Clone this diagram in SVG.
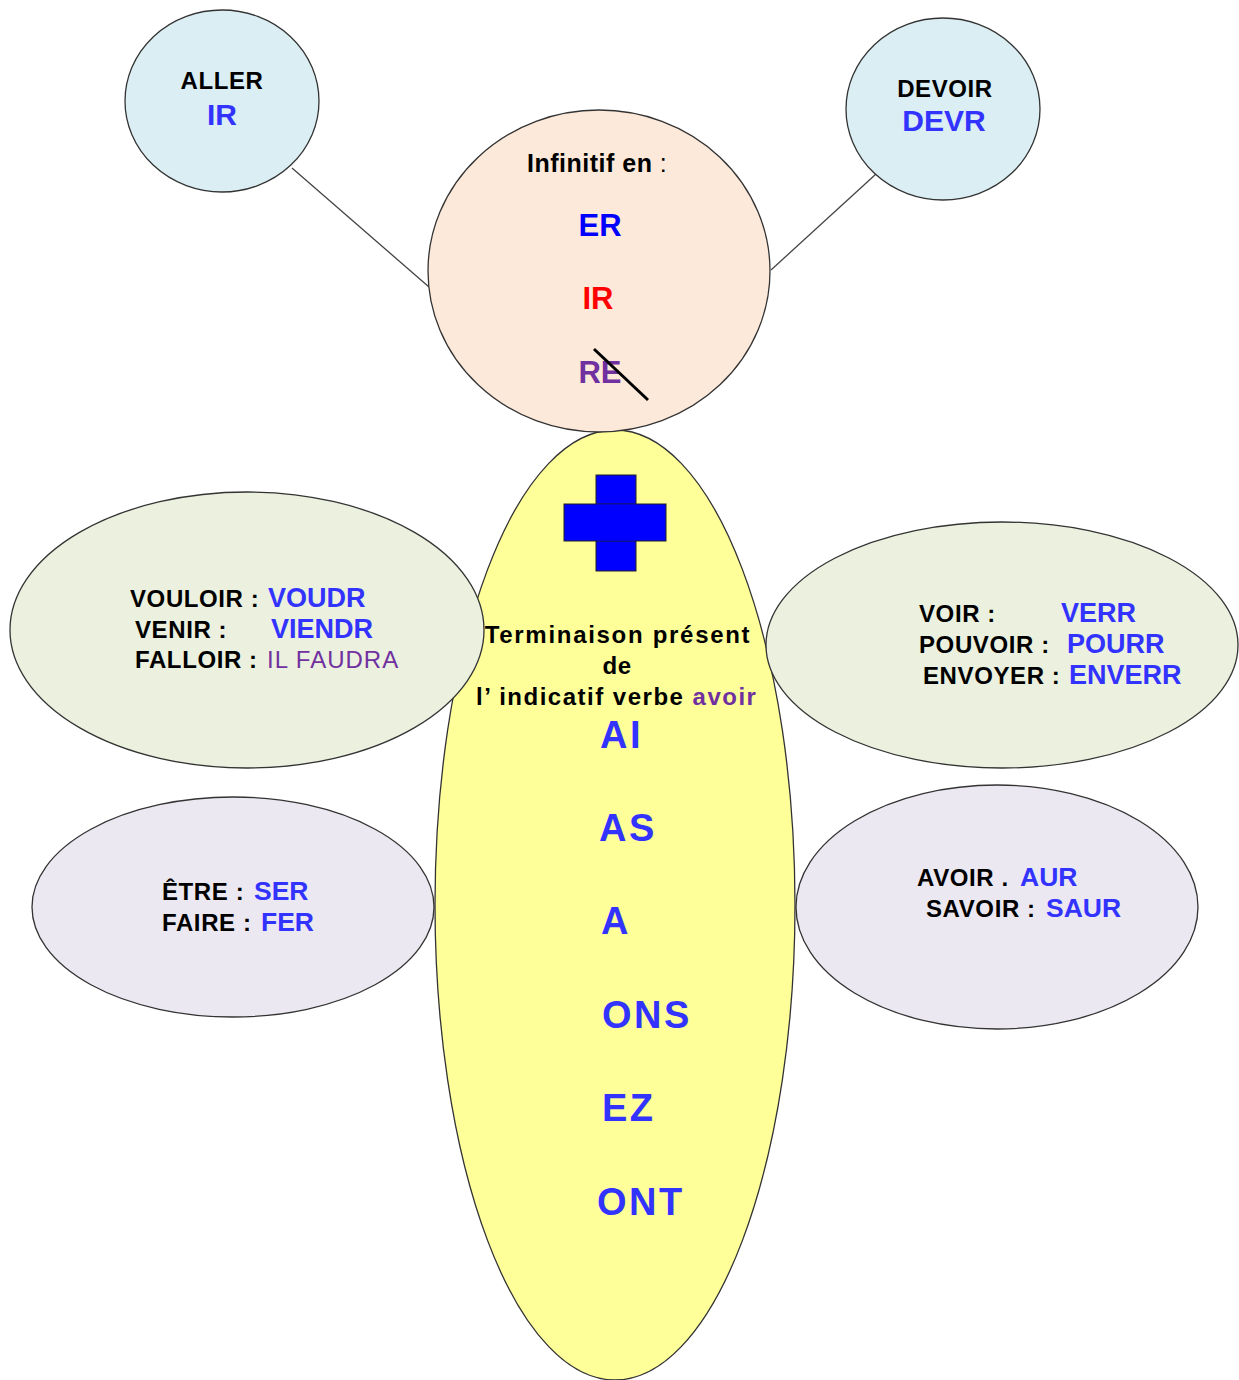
<svg xmlns="http://www.w3.org/2000/svg" width="1239" height="1380" viewBox="0 0 1239 1380">
<style>
.sh{stroke:#333;stroke-width:1.3}
.t{font-family:"Liberation Sans",Arial,sans-serif;font-weight:bold;fill:#000}
.k{font-size:24px;letter-spacing:0.6px}
.b{fill:#3333ff;font-size:27px}
.bl{fill:#3333ff;font-size:26.5px}
.p{fill:#7030a0;font-weight:normal}
.big{font-size:38px;fill:#3333ff;letter-spacing:2.5px}
</style>
<rect width="1239" height="1380" fill="#fff"/>
<g id="connectors" stroke="#444" stroke-width="1.3">
<line x1="292" y1="168" x2="429" y2="287"/>
<line x1="876" y1="174" x2="771" y2="270"/>
</g>
<g id="terminaison">
<ellipse cx="615" cy="905" rx="180" ry="475" fill="#ffff99" class="sh"/>
<rect x="596" y="475" width="40" height="96" fill="#0000ff" stroke="#222" stroke-width="1"/>
<rect x="564" y="504" width="102" height="37" fill="#0000ff" stroke="#222" stroke-width="1"/>
<rect x="596.5" y="504.5" width="39" height="36" fill="#0000ff"/>
<text class="t k" x="618" y="643" text-anchor="middle" style="letter-spacing:1.7px">Terminaison présent</text>
<text class="t k" x="617" y="674" text-anchor="middle">de</text>
<text class="t k" x="476" y="705" style="letter-spacing:1.5px">l’ indicatif verbe <tspan style="fill:#7030a0">avoir</tspan></text>
<text class="t big" x="600" y="748">AI</text>
<text class="t big" x="599" y="841">AS</text>
<text class="t big" x="601" y="934">A</text>
<text class="t big" x="602" y="1028">ONS</text>
<text class="t big" x="602" y="1121">EZ</text>
<text class="t big" x="597" y="1215">ONT</text>
</g>
<g id="infinitif">
<ellipse cx="599" cy="271" rx="171" ry="161" fill="#fde9d9" class="sh"/>
<text class="t" x="527" y="172" font-size="25" style="letter-spacing:0.5px">Infinitif en<tspan font-weight="normal"> :</tspan></text>
<text class="t" x="600" y="236" font-size="31" text-anchor="middle" style="fill:#0000ff">ER</text>
<text class="t" x="598" y="309" font-size="31" text-anchor="middle" style="fill:#ff0000">IR</text>
<text class="t" x="600" y="383" font-size="31" text-anchor="middle" style="fill:#7030a0">RE</text>
<line x1="594" y1="349" x2="648" y2="400" stroke="#000" stroke-width="3"/>
</g>
<g id="aller">
<ellipse cx="222" cy="101" rx="97" ry="91" fill="#daeef3" class="sh"/>
<text class="t k" x="222" y="89" text-anchor="middle">ALLER</text>
<text class="t" x="222" y="125" font-size="30" text-anchor="middle" style="fill:#3333ff">IR</text>
</g>
<g id="devoir">
<ellipse cx="943" cy="109" rx="97" ry="91" fill="#daeef3" class="sh"/>
<text class="t k" x="945" y="97" text-anchor="middle">DEVOIR</text>
<text class="t" x="944" y="131" font-size="30" text-anchor="middle" style="fill:#3333ff">DEVR</text>
</g>
<g id="futur-gauche">
<ellipse cx="247" cy="630" rx="237" ry="138" fill="#ebf1de" class="sh"/>
<text class="t k" x="130" y="607">VOULOIR :</text>
<text class="t b" x="268" y="607">VOUDR</text>
<text class="t k" x="135" y="638">VENIR :</text>
<text class="t b" x="271" y="638">VIENDR</text>
<text class="t k" x="135" y="668">FALLOIR :</text>
<text class="t p" x="267" y="668" font-size="24" style="letter-spacing:1px">IL FAUDRA</text>
</g>
<g id="futur-droite">
<ellipse cx="1002" cy="645" rx="236" ry="123" fill="#ebf1de" class="sh"/>
<text class="t k" x="919" y="622">VOIR :</text>
<text class="t b" x="1061" y="622">VERR</text>
<text class="t k" x="919" y="653">POUVOIR :</text>
<text class="t b" x="1067" y="653">POURR</text>
<text class="t k" x="923" y="684">ENVOYER :</text>
<text class="t b" x="1069" y="684">ENVERR</text>
</g>
<g id="etre-faire">
<ellipse cx="233" cy="907" rx="201" ry="110" fill="#ebe8f1" class="sh"/>
<text class="t k" x="162" y="900">ÊTRE :</text>
<text class="t bl" x="254" y="900">SER</text>
<text class="t k" x="162" y="931">FAIRE :</text>
<text class="t bl" x="261" y="931">FER</text>
</g>
<g id="avoir-savoir">
<ellipse cx="997" cy="907" rx="201" ry="122" fill="#ebe8f1" class="sh"/>
<text class="t k" x="917" y="886">AVOIR .</text>
<text class="t bl" x="1020" y="886">AUR</text>
<text class="t k" x="926" y="917">SAVOIR :</text>
<text class="t bl" x="1046" y="917">SAUR</text>
</g>
</svg>
